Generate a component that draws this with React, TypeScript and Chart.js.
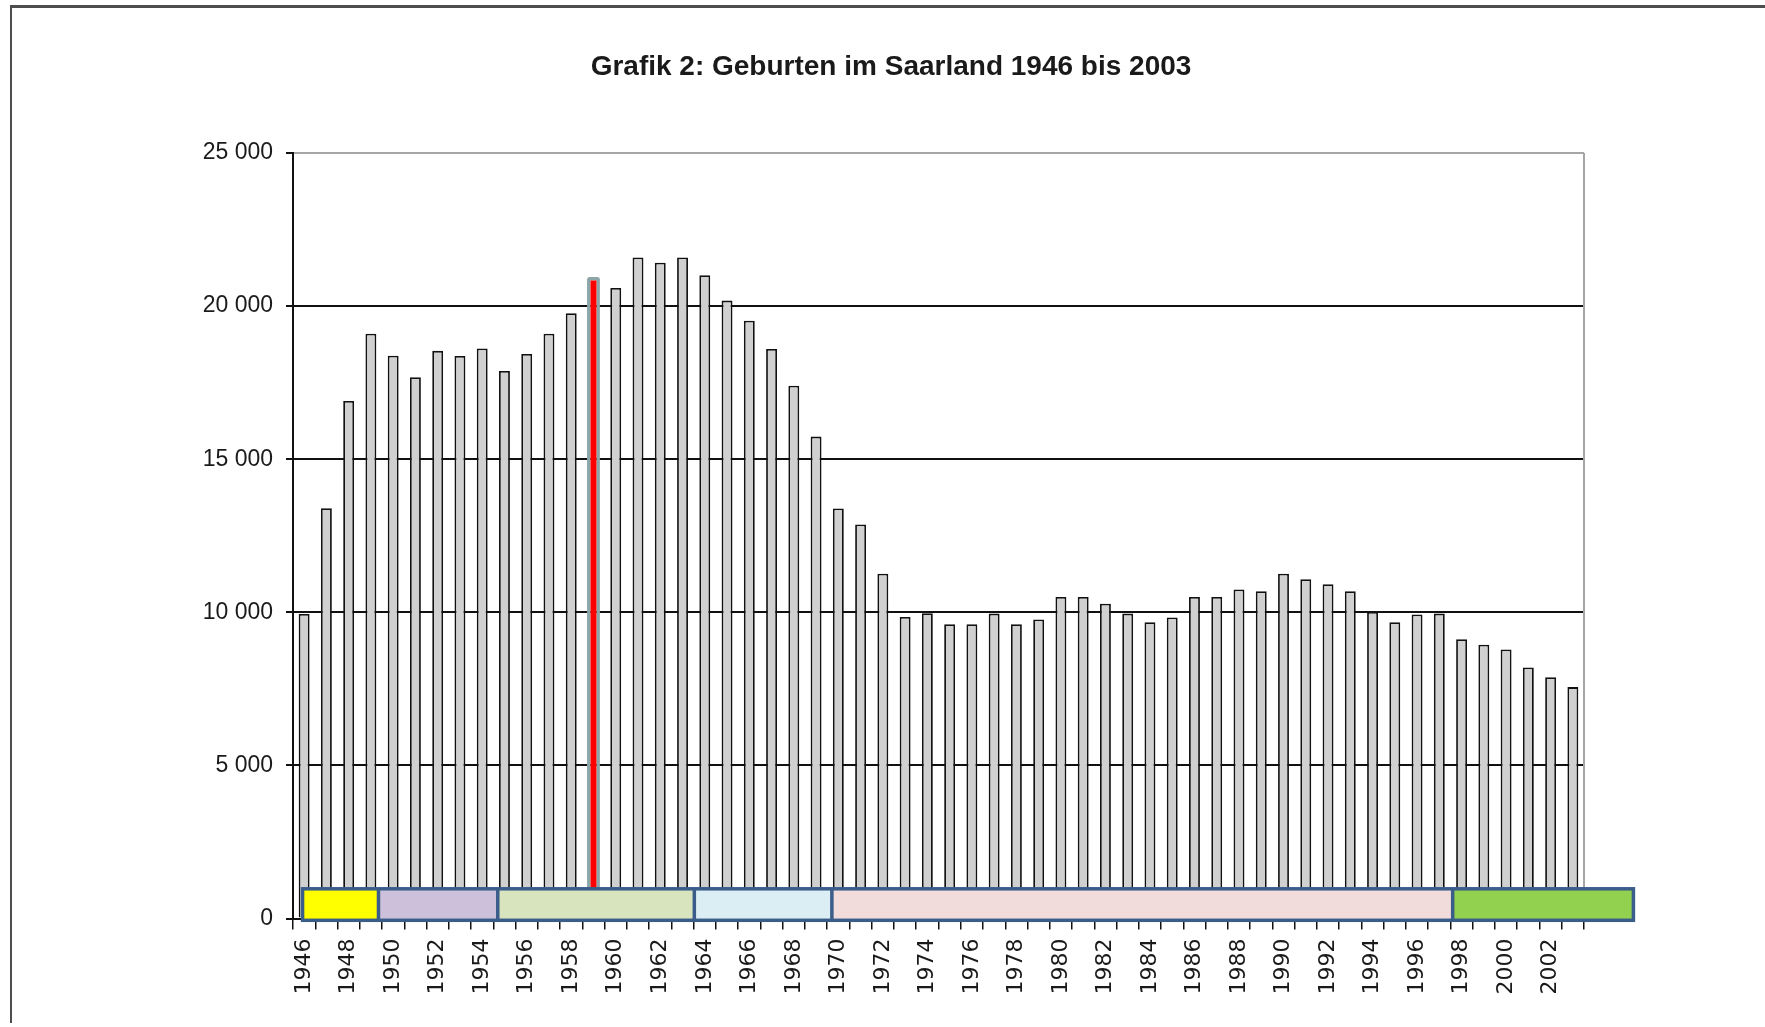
import React, { useEffect, useRef } from 'react';
import { Chart, registerables } from 'chart.js';

Chart.register(...registerables);

const chartTitle = 'Grafik 2: Geburten im Saarland 1946 bis 2003';

const years = [
  1946, 1947, 1948, 1949, 1950, 1951, 1952, 1953, 1954, 1955,
  1956, 1957, 1958, 1959, 1960, 1961, 1962, 1963, 1964, 1965,
  1966, 1967, 1968, 1969, 1970, 1971, 1972, 1973, 1974, 1975,
  1976, 1977, 1978, 1979, 1980, 1981, 1982, 1983, 1984, 1985,
  1986, 1987, 1988, 1989, 1990, 1991, 1992, 1993, 1994, 1995,
  1996, 1997, 1998, 1999, 2000, 2001, 2002, 2003,
];

const births = [
  9950, 13400, 16900, 19100, 18380, 17680, 18540, 18370, 18620, 17880,
  18440, 19100, 19770, 20950, 20590, 21590, 21420, 21590, 21010, 20180,
  19520, 18600, 17400, 15740, 13390, 12870, 11260, 9850, 9970, 9610,
  9610, 9960, 9610, 9770, 10500, 10500, 10280, 9960, 9680, 9830,
  10500, 10500, 10750, 10690, 11260, 11080, 10920, 10690, 10010, 9680,
  9930, 9960, 9120, 8940, 8790, 8200, 7880, 7560,
];

const highlightYear = 1959;

const yTickValues = [0, 5000, 10000, 15000, 20000, 25000];

// period band along the bottom of the plot (edges in years)
const periodEdges = [1945.93, 1949.34, 1954.7, 1963.53, 1969.71, 1997.6, 2005.72];
const periodColors = ['#ffff00', '#ccc0da', '#d7e4bd', '#dbeef4', '#f2dcdb', '#92d050'];

const sansFont = "'Liberation Sans', Arial, sans-serif";
const xLabelFont = "'DejaVu Sans', 'Liberation Sans', sans-serif";

function formatThousands(v: number): string {
  return String(v).replace(/\B(?=(\d{3})+(?!\d))/g, ' ');
}

const frameLinesPlugin = {
  id: 'frameLines',
  beforeDatasetsDraw(chart: any) {
    const { ctx, chartArea } = chart;
    ctx.save();
    ctx.strokeStyle = '#a6a6a6';
    ctx.lineWidth = 2;
    ctx.beginPath();
    ctx.moveTo(chartArea.right, chartArea.top);
    ctx.lineTo(chartArea.right, chartArea.bottom);
    ctx.stroke();
    ctx.restore();
  },
};

const periodBandPlugin = {
  id: 'periodBand',
  afterDatasetsDraw(chart: any) {
    const { ctx, chartArea, scales } = chart;
    const xs = scales.x;
    const first = years[0];
    const px = (yr: number) => xs.getPixelForValue(yr - first);
    const top = chartArea.bottom - 29.8;
    const bottom = chartArea.bottom + 1.7;
    ctx.save();
    for (let i = 0; i < periodColors.length; i++) {
      const x0 = px(periodEdges[i]);
      const x1 = px(periodEdges[i + 1]);
      ctx.fillStyle = periodColors[i];
      ctx.fillRect(x0, top, x1 - x0, bottom - top);
    }
    ctx.strokeStyle = '#3b5d8a';
    ctx.lineWidth = 3.5;
    const xStart = px(periodEdges[0]);
    const xEnd = px(periodEdges[periodEdges.length - 1]);
    ctx.strokeRect(xStart, top, xEnd - xStart, bottom - top);
    ctx.beginPath();
    for (let i = 1; i < periodEdges.length - 1; i++) {
      const xx = px(periodEdges[i]);
      ctx.moveTo(xx, top);
      ctx.lineTo(xx, bottom);
    }
    ctx.stroke();
    ctx.restore();
  },
};

export default function App() {
  const canvasRef = useRef<HTMLCanvasElement | null>(null);

  useEffect(() => {
    if (!canvasRef.current) return;
    const normalData = births.map((v, i) => (years[i] === highlightYear ? null : v));
    const highlightData = births.map((v, i) => (years[i] === highlightYear ? v : null));

    const chart = new Chart(canvasRef.current, {
      type: 'bar',
      data: {
        labels: years.map(String),
        datasets: [
          {
            label: 'Geburten',
            data: normalData,
            backgroundColor: '#d0d0d0',
            borderColor: '#111111',
            borderWidth: 1.8,
            barPercentage: 0.49,
            categoryPercentage: 1,
            grouped: false,
          },
          {
            label: 'Geburten ' + highlightYear,
            data: highlightData,
            backgroundColor: '#ff0000',
            borderColor: '#8ca5a8',
            borderWidth: 3.5,
            borderSkipped: false,
            borderRadius: 2,
            barPercentage: 0.58,
            categoryPercentage: 1,
            grouped: false,
          },
        ],
      },
      options: {
        animation: false,
        responsive: true,
        maintainAspectRatio: false,
        layout: { padding: { left: 186, right: 181, top: 0, bottom: 4.4 } },
        plugins: {
          legend: { display: false },
          tooltip: { enabled: false },
          title: {
            display: true,
            text: chartTitle,
            color: '#1a1a1a',
            font: { family: sansFont, size: 28, weight: 'bold' },
            padding: { top: 42, bottom: 69.4 },
          },
        },
        scales: {
          x: {
            type: 'category',
            offset: true,
            grid: {
              offset: true,
              drawOnChartArea: false,
              drawTicks: true,
              tickLength: 11,
              color: '#111111',
              tickColor: '#111111',
              lineWidth: 1.5,
            },
            border: { display: true, color: '#111111', width: 2 },
            ticks: {
              autoSkip: false,
              minRotation: 90,
              maxRotation: 90,
              padding: 9,
              color: '#1a1a1a',
              font: { family: xLabelFont, size: 22 },
              callback: (_v: any, idx: number) => (idx % 2 === 0 ? String(years[idx]) : ''),
            },
            afterFit: (scale: any) => {
              scale.height = 100;
            },
          },
          y: {
            min: yTickValues[0],
            max: yTickValues[yTickValues.length - 1],
            afterBuildTicks: (scale: any) => {
              scale.ticks = yTickValues.map((v) => ({ value: v }));
            },
            grid: {
              color: (c: any) => (c.tick && c.tick.value === yTickValues[yTickValues.length - 1] ? '#a6a6a6' : '#111111'),
              tickColor: '#111111',
              lineWidth: 2,
              tickLength: 7,
              drawTicks: true,
            },
            border: { display: true, color: '#111111', width: 2 },
            ticks: {
              padding: 13,
              color: '#1a1a1a',
              font: { family: sansFont, size: 23 },
              callback: (v: any) => formatThousands(Number(v)),
            },
            afterFit: (scale: any) => {
              scale.width = 95;
            },
          },
        },
      },
      plugins: [frameLinesPlugin, periodBandPlugin],
    });
    return () => chart.destroy();
  }, []);

  return (
    <div
      style={{
        position: 'absolute',
        left: 10,
        top: 5,
        width: 1753,
        height: 1015,
        borderTop: '3px solid #4d4d4d',
        borderLeft: '2px solid #4d4d4d',
        background: '#ffffff',
      }}
    >
      <canvas ref={canvasRef} />
    </div>
  );
}
